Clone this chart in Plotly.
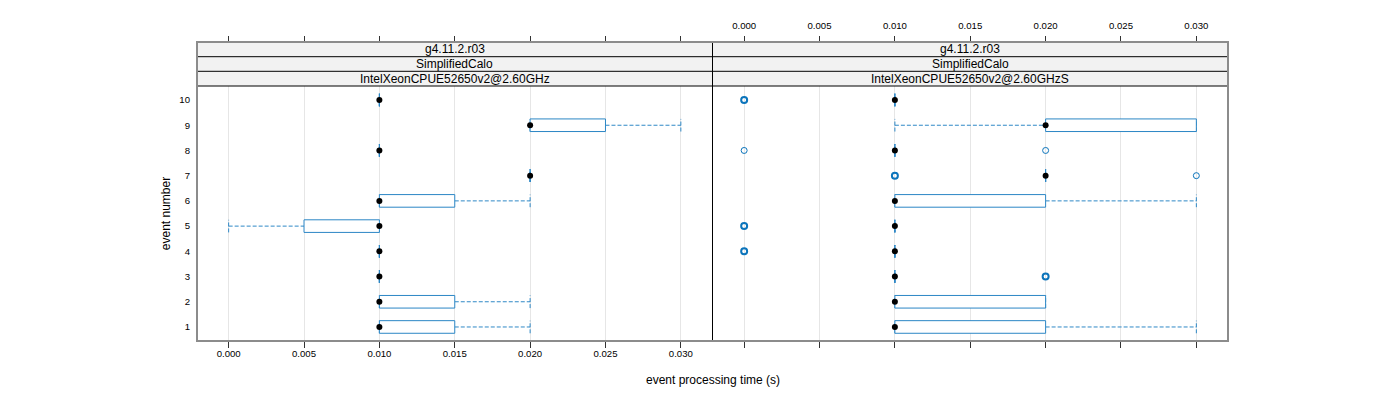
import plotly.graph_objects as go

# ---------------- data ----------------
events = [1, 2, 3, 4, 5, 6, 7, 8, 9, 10]
tick_vals = [0.000, 0.005, 0.010, 0.015, 0.020, 0.025, 0.030]
tick_text = ["0.000", "0.005", "0.010", "0.015", "0.020", "0.025", "0.030"]

strip_top = "g4.11.2.r03"
strip_mid = "SimplifiedCalo"
strip_left = "IntelXeonCPUE52650v2@2.60GHz"
strip_right = "IntelXeonCPUE52650v2@2.60GHzS"

# panel A (left)
median_A = [0.010, 0.010, 0.010, 0.010, 0.010, 0.010, 0.020, 0.010, 0.020, 0.010]
q1_A     = [0.010, 0.010, 0.010, 0.010, 0.005, 0.010, 0.020, 0.010, 0.020, 0.010]
q3_A     = [0.015, 0.015, 0.010, 0.010, 0.010, 0.015, 0.020, 0.010, 0.025, 0.010]
lo_A     = [0.010, 0.010, 0.010, 0.010, 0.000, 0.010, 0.020, 0.010, 0.020, 0.010]
hi_A     = [0.020, 0.020, 0.010, 0.010, 0.010, 0.020, 0.020, 0.010, 0.030, 0.010]
out_ev_A, out_val_A, out_cnt_A = [], [], []

# panel B (right)
median_B = [0.010, 0.010, 0.010, 0.010, 0.010, 0.010, 0.020, 0.010, 0.020, 0.010]
q1_B     = [0.010, 0.010, 0.010, 0.010, 0.010, 0.010, 0.020, 0.010, 0.020, 0.010]
q3_B     = [0.020, 0.020, 0.010, 0.010, 0.010, 0.020, 0.020, 0.010, 0.030, 0.010]
lo_B     = [0.010, 0.010, 0.010, 0.010, 0.010, 0.010, 0.020, 0.010, 0.010, 0.010]
hi_B     = [0.030, 0.020, 0.010, 0.010, 0.010, 0.030, 0.020, 0.010, 0.030, 0.010]
out_ev_B  = [3, 4, 5, 7, 7, 8, 8, 10]
out_val_B = [0.020, 0.000, 0.000, 0.010, 0.030, 0.000, 0.020, 0.000]
out_cnt_B = [2, 2, 2, 2, 1, 1, 1, 2]

# ---------------- style ----------------
BOX_COL = "#2b86c5"
WHISK_COL = "#2f88c6"
OUT_COL = "#0b74bb"
HALF = 0.25
FONT = "Liberation Sans, Arial, sans-serif"

fig = go.Figure()


def add_panel(xref, xtop, med, q1, q3, lo, hi, oev, oval, ocnt):
    # whiskers
    wx, wy = [], []
    for e, a, b, c, d in zip(events, lo, q1, q3, hi):
        if a < b:
            wx += [a, b, None]
            wy += [e, e, None]
        if d > c:
            wx += [c, d, None]
            wy += [e, e, None]
    fig.add_trace(go.Scatter(x=wx, y=wy, mode="lines", xaxis=xref, yaxis="y",
                             line=dict(color=WHISK_COL, width=1, dash="4px,2px"),
                             hoverinfo="skip", showlegend=False))
    # staples
    sx, sy = [], []
    for e, a, d in zip(events, lo, hi):
        for v in (a, d):
            sx += [v, v, None]
            sy += [e - HALF, e + HALF, None]
    fig.add_trace(go.Scatter(x=sx, y=sy, mode="lines", xaxis=xref, yaxis="y",
                             line=dict(color=WHISK_COL, width=1, dash="4px,2px"),
                             hoverinfo="skip", showlegend=False))
    # boxes
    for e, b, c in zip(events, q1, q3):
        fig.add_trace(go.Scatter(
            x=[b, c, c, b, b], y=[e - HALF, e - HALF, e + HALF, e + HALF, e - HALF],
            mode="lines", fill="toself", fillcolor="white", xaxis=xref, yaxis="y",
            line=dict(color=BOX_COL, width=1), hoverinfo="skip", showlegend=False))
    # outliers
    if oev:
        fig.add_trace(go.Scatter(
            x=oval, y=oev, mode="markers", xaxis=xtop, yaxis="y",
            marker=dict(symbol="circle-open", size=6, color=OUT_COL,
                        line=dict(color=OUT_COL, width=[1.0 if n == 1 else 2.0 for n in ocnt])),
            hoverinfo="skip", showlegend=False))
    # medians (drawn on the matching top axis so that it is rendered)
    fig.add_trace(go.Scatter(x=med, y=events, mode="markers", xaxis=xtop, yaxis="y",
                             marker=dict(symbol="circle", size=6, color="black"),
                             hoverinfo="skip", showlegend=False))


add_panel("x", "x3", median_A, q1_A, q3_A, lo_A, hi_A, out_ev_A, out_val_A, out_cnt_A)
add_panel("x2", "x4", median_B, q1_B, q3_B, lo_B, hi_B, out_ev_B, out_val_B, out_cnt_B)

XR = [-0.0021, 0.0321]
Y_TOP = 255 / 299
S1 = (341 - 71.3) / 299
S2 = (341 - 56.7) / 299

common_x = dict(range=XR, tickvals=tick_vals, ticktext=tick_text, zeroline=False,
                showline=False, ticks="outside", ticklen=6, tickcolor="#333333",
                tickfont=dict(size=9.6, color="black", family=FONT))

# page body has an 8px default margin -> figure is 1392x392 placed at (8,8)
fig.update_layout(
    width=1392, height=392,
    margin=dict(l=189, r=172, t=34, b=59),
    paper_bgcolor="white", plot_bgcolor="white",
    font=dict(family=FONT, color="black"),
    xaxis=dict(domain=[0, 0.5], anchor="y", showgrid=True, gridcolor="#e6e6e6",
               ticklabelstandoff=-3, **common_x),
    xaxis2=dict(domain=[0.5, 1], anchor="y", showgrid=True, gridcolor="#e6e6e6",
                showticklabels=False, **common_x),
    xaxis3=dict(overlaying="x", matches="x", anchor="free", position=1, side="top",
                showgrid=False, showticklabels=False, **common_x),
    xaxis4=dict(overlaying="x2", matches="x2", anchor="free", position=1, side="top",
                showgrid=False, ticklabelstandoff=3, **common_x),
    yaxis=dict(domain=[0, Y_TOP], range=[0.444, 10.556], tickvals=events,
               ticktext=[str(e) for e in events], showgrid=False, zeroline=False,
               showline=False, ticks="", ticklabelstandoff=6,
               tickfont=dict(size=9.6, color="black", family=FONT),
               title=dict(text="event number", font=dict(size=12), standoff=6)),
)

shapes = []
# strips
for x0, x1 in ((0, 0.5), (0.5, 1)):
    for y0, y1 in ((Y_TOP, S1), (S1, S2), (S2, 1)):
        shapes.append(dict(type="rect", xref="paper", yref="paper", x0=x0, x1=x1,
                           y0=y0, y1=y1, fillcolor="#f2f2f2", line=dict(width=0),
                           layer="below"))
for yy in (Y_TOP, S1, S2):
    shapes.append(dict(type="line", xref="paper", yref="paper", x0=0, x1=1, y0=yy, y1=yy,
                       line=dict(color="black", width=1)))
shapes.append(dict(type="line", xref="paper", yref="paper", x0=0.5, x1=0.5, y0=0, y1=1,
                   line=dict(color="black", width=1)))
shapes.append(dict(type="rect", xref="paper", yref="paper", x0=0, x1=1, y0=0, y1=1,
                   line=dict(color="#8c8c8c", width=2)))
fig.update_layout(shapes=shapes)

ann = []
for xc, lab in ((0.25, strip_left), (0.75, strip_right)):
    ann.append(dict(x=xc, y=(Y_TOP + S1) / 2, text=lab))
    ann.append(dict(x=xc, y=(S1 + S2) / 2, text=strip_mid))
    ann.append(dict(x=xc, y=(S2 + 1) / 2, text=strip_top))
annotations = [dict(xref="paper", yref="paper", showarrow=False, xanchor="center",
                    yanchor="middle", font=dict(size=12, color="black"), **a) for a in ann]
annotations.append(dict(xref="paper", yref="paper", x=0.5, y=(341 - 380) / 299,
                        text="event processing time (s)", showarrow=False,
                        xanchor="center", yanchor="middle",
                        font=dict(size=12, color="black")))
fig.update_layout(annotations=annotations)

fig.write_html("out.html")
